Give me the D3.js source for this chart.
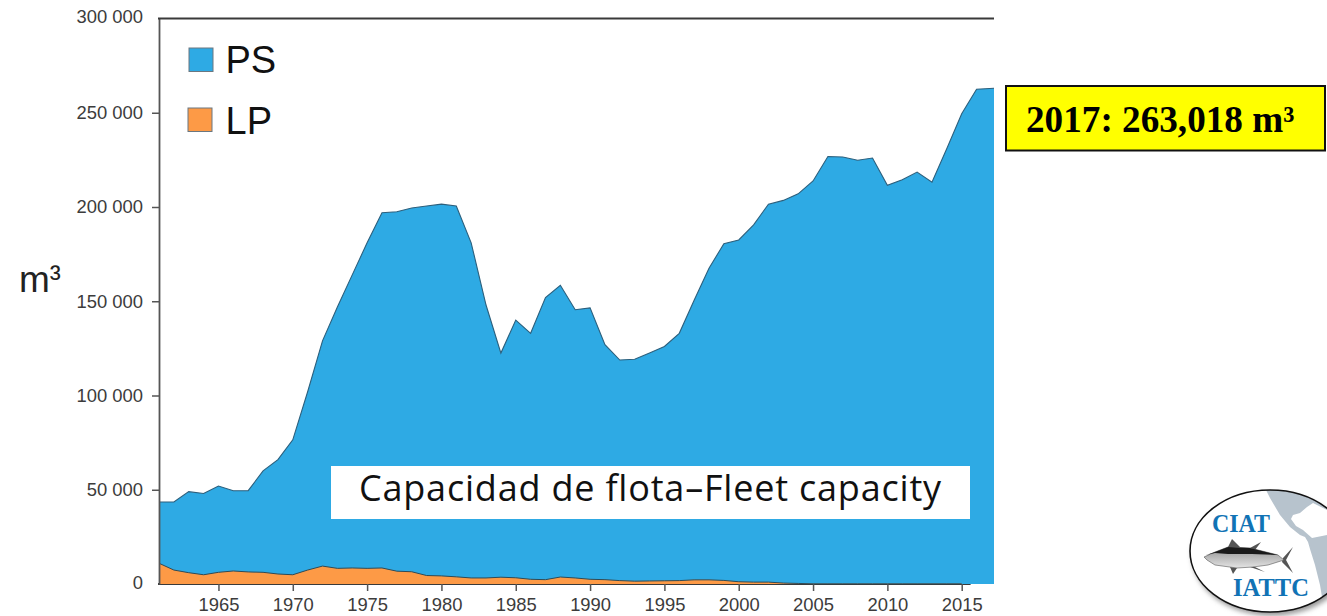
<!DOCTYPE html>
<html><head><meta charset="utf-8">
<script src="https://cdn.jsdelivr.net/npm/d3@7"></script>
<style>html,body{margin:0;padding:0;background:#fff;overflow:hidden}svg{display:block}</style>
</head><body><svg id="c" width="1327" height="616"></svg>
<script>
const years = d3.range(1961, 2018);
const totalCapacity = [43500,43500,49000,48000,52000,49500,49500,60000,66000,76500,
 102000,129000,147000,164000,181000,197000,197500,199500,200500,201500,
 200500,181000,148000,122500,140000,133000,152000,158500,145500,146500,
 127000,118800,119200,122500,126000,133000,150500,167500,180500,182500,
 190500,201500,203500,207000,213800,226800,226500,224800,226000,211500,
 214500,218500,213200,231000,249500,262500,263018];
const lpCapacity = [11000,7400,6000,4900,6200,6900,6400,6200,5300,4900,
 7400,9500,8300,8500,8300,8500,6800,6500,4500,4300,
 3800,3200,3200,3600,3300,2500,2300,3700,3200,2500,
 2300,1800,1500,1600,1700,1800,2200,2200,1900,1200,
 1000,1000,500,300,100,100,100,100,100,100,
 100,100,100,100,100,50,0];
const yTicks = [0,50000,100000,150000,200000,250000,300000];
const xTicks = [1965,1970,1975,1980,1985,1990,1995,2000,2005,2010,2015];
const seriesNames = ["PS","LP"];
const seriesColors = ["#2eaae4","#fd9a46"];

const svg = d3.select("#c");
const x = d3.scaleLinear().domain([1961,2015]).range([159,961.7]);
const y = d3.scaleLinear().domain([0,300000]).range([584,18.5]);
const idx = years.map((_,i)=>i);
const last = idx.length-1;
const px = i => i===last ? 994 : x(years[i]);   // the plot is cropped at its right edge

// axes underneath the areas (the area covers the tail of the baseline)
const tickStyle = g => {
  g.selectAll(".tick text").attr("font-family","'Liberation Sans'").attr("font-size",18.4).attr("fill","#3c3c3c");
  g.selectAll(".tick line").attr("stroke","#555").attr("stroke-width",1.5);
};
const bx = svg.append("g").attr("transform","translate(0,584)")
 .call(d3.axisBottom(x).tickValues(xTicks).tickFormat(d3.format("d")).tickSize(7).tickPadding(7)).call(tickStyle);
bx.select(".domain").attr("d",`M158,0H${x(2015.6)}`).attr("stroke","#3a3a3a").attr("stroke-width",2);

svg.append("path").datum(idx)
 .attr("d", d3.area().x(px).y0(y(0)).y1(i=>y(totalCapacity[i])))
 .attr("fill",seriesColors[0]);
svg.append("path").datum(idx)
 .attr("d", d3.line().x(px).y(i=>y(totalCapacity[i])))
 .attr("fill","none").attr("stroke","#2c5f7c").attr("stroke-width",1.1);
svg.append("path").datum(idx.filter(i=>lpCapacity[i]>=100))
 .attr("d", d3.area().x(px).y0(y(0)).y1(i=>y(lpCapacity[i])))
 .attr("fill",seriesColors[1]);
svg.append("path").datum(idx.filter(i=>lpCapacity[i]>=100))
 .attr("d", d3.line().x(px).y(i=>y(lpCapacity[i])))
 .attr("fill","none").attr("stroke","#2f4a55").attr("stroke-width",1);

const fmt = v => d3.format(",")(v).replace(/,/g," ");
const ax = svg.append("g").attr("transform","translate(159,0)")
 .call(d3.axisLeft(y).tickValues(yTicks).tickFormat(fmt).tickSize(7).tickPadding(9).tickSizeOuter(0)).call(tickStyle);
ax.select(".domain").attr("stroke","#555").attr("stroke-width",1.8);
ax.selectAll(".tick").filter(d=>d===0||d===300000).select("line").remove();
ax.selectAll(".tick").filter(d=>d===300000).select("text").attr("y",-2);
ax.selectAll(".tick").filter(d=>d===0).select("text").attr("y",-1);

svg.append("line").attr("x1",158).attr("x2",994).attr("y1",y(300000)).attr("y2",y(300000))
 .attr("stroke","#3a3a3a").attr("stroke-width",1.8);

// legend
const legendBox = [[189,48],[188,108]];
const legendBase = [73,134];
seriesNames.forEach((n,i)=>{
  svg.append("rect").attr("x",legendBox[i][0]).attr("y",legendBox[i][1]).attr("width",24).attr("height",23.5)
   .attr("fill",seriesColors[i]).attr("stroke","#6b7780").attr("stroke-width",1);
  svg.append("text").attr("x",225.5).attr("y",legendBase[i]).text(n)
   .attr("font-family","'Liberation Sans'").attr("font-size",38).attr("fill","#111");
});

const unit = svg.append("text").attr("x",19).attr("y",292).attr("font-family","'Liberation Sans'")
 .attr("font-size",37).attr("fill","#222").text("m");
unit.append("tspan").attr("font-size",33).attr("dy",-3).text("³");

// subtitle box
svg.append("rect").attr("x",331).attr("y",466).attr("width",639).attr("height",53).attr("fill","#fff");
svg.append("text").attr("x",359).attr("y",501).attr("font-family","'Open Sans'").attr("font-size",36)
 .attr("letter-spacing",0.8).attr("fill","#111").text("Capacidad de flota–Fleet capacity");

// callout
svg.append("rect").attr("x",1006).attr("y",86).attr("width",319).attr("height",64.5)
 .attr("fill","#ffff00").attr("stroke","#111").attr("stroke-width",2);
svg.append("text").attr("x",1026).attr("y",132.3).attr("font-family","'Liberation Serif'")
 .attr("font-weight","bold").attr("font-size",37.2).attr("fill","#000").text("2017: 263,018 m³");

// logo
const logo = svg.append("g");
const defs = svg.append("defs");
defs.append("clipPath").attr("id","el").append("ellipse").attr("cx",1270).attr("cy",551).attr("rx",80).attr("ry",61);
const f = defs.append("filter").attr("id","sh").attr("x","-20%").attr("y","-20%").attr("width","140%").attr("height","140%");
f.append("feGaussianBlur").attr("stdDeviation",2.5);
const belly = defs.append("linearGradient").attr("id","bl").attr("x1",0).attr("x2",0).attr("y1",0).attr("y2",1);
belly.append("stop").attr("offset","0%").attr("stop-color","#8f8f8f");
belly.append("stop").attr("offset","100%").attr("stop-color","#e4e4e4");
logo.append("ellipse").attr("cx",1272).attr("cy",555).attr("rx",80).attr("ry",61).attr("fill","#9a9a9a").attr("filter","url(#sh)");
logo.append("ellipse").attr("cx",1270).attr("cy",551).attr("rx",80).attr("ry",61).attr("fill","#fff");
logo.append("g").attr("clip-path","url(#el)").append("path")
 .attr("fill","#b7c3cd")
 .attr("d","M1265 488 L1270 498 L1280 515 L1290 527 L1300 535 L1305 537 L1308 542 L1310 549 L1315 565 L1320 585 L1322 597 L1327 595 L1327 535 L1312 538 L1303 530 L1296 526 L1291 519 L1293 515 L1300 513 L1307 507 L1313 503 L1327 510 L1327 488 Z");
logo.append("ellipse").attr("cx",1270).attr("cy",551).attr("rx",80).attr("ry",61).attr("fill","none").attr("stroke","#111").attr("stroke-width",1.6);
const serif = (t,xp,yp,w)=>logo.append("text").attr("x",xp).attr("y",yp).text(t)
 .attr("font-family","'Liberation Serif'").attr("font-weight","bold").attr("font-size",25)
 .attr("textLength",w).attr("lengthAdjust","spacingAndGlyphs").attr("fill","#1173b5");
serif("CIAT",1212,531.5,58);
serif("IATTC",1233,596,76);
// tuna
logo.append("path").attr("fill","#555")
 .attr("d","M1228 547 L1232 539 L1240 547 Z M1250 548 L1261 542 L1255 550 Z M1283 558 L1293 547 L1286 560 L1293 573 L1282 562 Z M1253 566 L1265 572 L1250 567 Z M1230 567 L1233 574 L1237 568 Z");
logo.append("path").attr("fill","url(#bl)").attr("stroke","#555").attr("stroke-width",0.6)
 .attr("d","M1204 557 L1215 552 L1228 547 L1250 548 L1278 555 L1284 560 L1268 565 L1253 567 L1237 568 L1215 565 L1207 560 Z");
logo.append("path").attr("fill","#1a1a1a")
 .attr("d","M1206 555 L1215 552 L1228 547 L1250 548 L1278 555 L1252 554 L1228 554 L1215 553 Z");
</script></body></html>
